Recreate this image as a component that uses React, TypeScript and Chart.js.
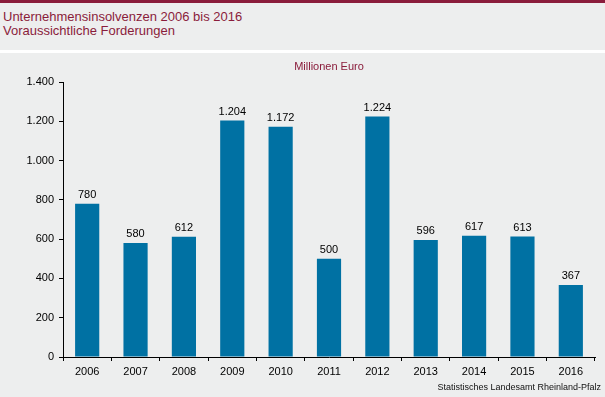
import React, { useEffect, useRef } from "react";
import { Chart, registerables } from "chart.js";
Chart.register(...registerables);

const categories = ["2006", "2007", "2008", "2009", "2010", "2011", "2012", "2013", "2014", "2015", "2016"];
const values = [780, 580, 612, 1204, 1172, 500, 1224, 596, 617, 613, 367];
const titleLines = ["Unternehmensinsolvenzen 2006 bis 2016", "Voraussichtliche Forderungen"];
const unitLabel = "Millionen Euro";
const sourceLabel = "Statistisches Landesamt Rheinland-Pfalz";

const MAROON = "#8a1c3b";
const BAR = "#0071a3";
const BG = "#edeeee";
const FONT = "'Liberation Sans', Arial, sans-serif";

function fmt(n: number): string {
  const s = Math.round(n).toString();
  return s.replace(/\B(?=(\d{3})+(?!\d))/g, ".");
}

export default function App() {
  const ref = useRef<HTMLCanvasElement | null>(null);
  useEffect(() => {
    if (!ref.current) return;
    const labelsPlugin = {
      id: "extras",
      afterDatasetsDraw(chart: any) {
        const ctx = chart.ctx;
        const meta = chart.getDatasetMeta(0);
        ctx.save();
        ctx.fillStyle = "#000";
        ctx.font = `11px ${FONT}`;
        ctx.textAlign = "center";
        ctx.textBaseline = "alphabetic";
        meta.data.forEach((el: any, i: number) => {
          ctx.fillText(fmt(values[i]), el.x, el.y - 6);
        });
        const ca = chart.chartArea;
        ctx.fillStyle = MAROON;
        ctx.font = `11px ${FONT}`;
        ctx.textBaseline = "middle";
        ctx.fillText(unitLabel, (ca.left + ca.right) / 2, ca.top - 15);
        ctx.fillStyle = "#111";
        ctx.font = `9px ${FONT}`;
        ctx.textAlign = "right";
        ctx.fillText(sourceLabel, chart.width - 4, chart.height - 9);
        ctx.restore();
      },
    };
    const chart = new Chart(ref.current, {
      type: "bar",
      data: {
        labels: categories,
        datasets: [
          {
            data: values,
            backgroundColor: BAR,
            barPercentage: 0.5,
            categoryPercentage: 1,
          },
        ],
      },
      options: {
        animation: false,
        responsive: false,
        layout: { padding: { left: 0, right: 10, top: 29, bottom: 0 } },
        plugins: { legend: { display: false }, tooltip: { enabled: false }, title: { display: false } },
        scales: {
          x: {
            offset: true,
            grid: { display: true, drawOnChartArea: false, tickLength: 4, color: "#000", offset: true },
            border: { display: true, color: "#000", width: 1 },
            ticks: { color: "#000", font: { family: FONT, size: 11 }, padding: 4 },
            afterFit(scale: any) {
              scale.height = 40;
            },
          },
          y: {
            min: 0,
            max: 1400,
            ticks: {
              stepSize: 200,
              color: "#000",
              font: { family: FONT, size: 11 },
              padding: 5,
              callback: (v: any) => fmt(Number(v)),
            },
            grid: { display: true, drawOnChartArea: false, tickLength: 4, color: "#000" },
            border: { display: true, color: "#000", width: 1 },
            afterFit(scale: any) {
              scale.width = 63;
            },
          },
        },
      },
      plugins: [labelsPlugin],
    });
    return () => chart.destroy();
  }, []);

  return (
    <div style={{ position: "absolute", top: 0, left: 0, width: 605, height: 397, background: BG, overflow: "hidden", fontFamily: FONT }}>
      <div style={{ position: "absolute", top: 0, left: 0, width: 605, height: 3, background: MAROON }} />
      <div style={{ position: "absolute", top: 10, left: 3, color: MAROON, fontSize: 13, lineHeight: "14px" }}>
        {titleLines.map((t, i) => (
          <div key={i}>{t}</div>
        ))}
      </div>
      <div style={{ position: "absolute", top: 50, left: 0, width: 605, height: 3, background: "#ffffff" }} />
      <div style={{ position: "absolute", top: 53, left: 0, width: 605, height: 344 }}>
        <canvas ref={ref} width={605} height={344} style={{ display: "block", width: 605, height: 344 }} />
      </div>
    </div>
  );
}
